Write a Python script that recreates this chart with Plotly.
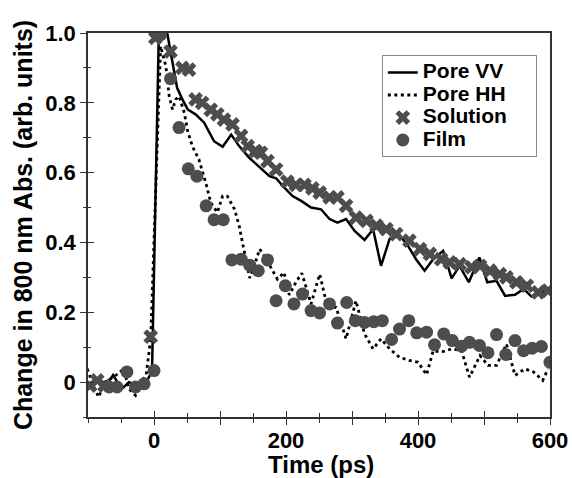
import plotly.graph_objects as go

# ---- data ----
vv_t = [-100, -84, -69, -62, -49, -38, -25, -12, -3, 7, 20, 28, 35, 43, 51, 63, 76, 91, 104, 117, 129,
        144, 160, 175, 185, 195, 210, 223, 238, 253, 266, 278, 291, 304, 319, 332, 344, 357, 372, 385,
        397, 410, 423, 438, 451, 463, 477, 493, 505, 519, 532, 547, 560, 572, 585, 597, 613]
vv_v = [-0.01, 0.0, 0.0, 0.02, -0.02, 0.0, -0.01, 0.0, 0.03, 0.97, 1.0, 0.914, 0.843, 0.81, 0.781, 0.767,
        0.743, 0.69, 0.674, 0.709, 0.676, 0.643, 0.617, 0.59, 0.584, 0.562, 0.533, 0.519, 0.50, 0.495,
        0.467, 0.457, 0.467, 0.433, 0.407, 0.438, 0.333, 0.41, 0.421, 0.39, 0.352, 0.319, 0.352, 0.376,
        0.297, 0.333, 0.286, 0.357, 0.286, 0.29, 0.247, 0.25, 0.267, 0.245, 0.257, 0.262, 0.233]

hh_t = [-101, -94, -84, -74, -58, -46, -38, -28, -20, -12, -5, 10, 18, 23, 28, 33, 38, 46, 51, 58, 68,
        79, 86, 96, 104, 111, 122, 129, 134, 139, 145, 152, 160, 167, 177, 187, 197, 205, 215, 224,
        238, 251, 263, 276, 291, 306, 319, 332, 344, 357, 372, 387, 400, 413, 423, 435, 451, 466, 478,
        494, 506, 519, 534, 547, 562, 575, 589, 597]
hh_v = [0.038, 0.0, -0.043, 0.0, 0.019, 0.038, -0.019, -0.038, 0.0, 0.019, 0.124, 0.962, 0.905, 0.819,
        0.781, 0.81, 0.819, 0.771, 0.719, 0.676, 0.638, 0.567, 0.514, 0.486, 0.533, 0.533, 0.495, 0.448,
        0.40, 0.352, 0.298, 0.333, 0.381, 0.362, 0.329, 0.295, 0.314, 0.25, 0.286, 0.312, 0.224, 0.309,
        0.214, 0.214, 0.124, 0.233, 0.138, 0.095, 0.124, 0.095, 0.071, 0.062, 0.057, 0.021, 0.09, 0.086,
        0.095, 0.09, 0.014, 0.076, 0.048, 0.048, 0.109, 0.019, 0.038, 0.029, 0.005, 0.038]

sol_t = [-97, -86, -75, -5, 2, 25, 43, 53, 63, 73, 86, 96, 106, 119, 132, 142, 154, 162, 172, 185, 202,
         215, 228, 240, 251, 266, 278, 291, 306, 322, 337, 352, 367, 387, 403, 418, 435, 448, 463, 481,
         494, 509, 524, 534, 549, 565, 582, 597]
sol_v = [-0.01, 0.005, -0.01, 0.13, 0.986, 0.947, 0.90, 0.895, 0.81, 0.80, 0.78, 0.767, 0.752, 0.738,
         0.705, 0.676, 0.662, 0.657, 0.633, 0.609, 0.574, 0.565, 0.565, 0.555, 0.543, 0.529, 0.529, 0.505,
         0.471, 0.462, 0.448, 0.438, 0.424, 0.405, 0.381, 0.367, 0.352, 0.343, 0.338, 0.329, 0.333, 0.319,
         0.309, 0.30, 0.286, 0.276, 0.257, 0.262]

film_t = [-68, -56, -41, -28, -15, 0, 10, 25, 38, 52, 65, 79, 91, 105, 118, 132, 145, 158, 172, 185, 199,
          212, 225, 238, 251, 266, 278, 292, 305, 319, 333, 346, 360, 372, 386, 398, 413, 425, 439, 452,
          466, 478, 493, 506, 519, 533, 547, 560, 573, 587, 600]
film_v = [-0.014, -0.014, 0.029, -0.014, -0.005, 0.033, 0.995, 0.869, 0.729, 0.611, 0.59, 0.505, 0.465,
          0.465, 0.35, 0.352, 0.335, 0.319, 0.35, 0.233, 0.276, 0.224, 0.252, 0.205, 0.198, 0.224, 0.169,
          0.228, 0.176, 0.171, 0.173, 0.176, 0.122, 0.152, 0.176, 0.141, 0.143, 0.107, 0.138, 0.119, 0.103,
          0.114, 0.105, 0.084, 0.136, 0.079, 0.119, 0.09, 0.097, 0.102, 0.057]

y_tickvals = [0, 0.2, 0.4, 0.6, 0.8, 1.0]
y_ticktext = ["0", "0.2", "0.4", "0.6", "0.8", "1.0"]
y_minorvals = [-0.1, 0.1, 0.3, 0.5, 0.7, 0.9]
x_tickvals = [0, 100, 200, 300, 400, 500, 600]
x_ticktext = ["0", "", "200", "", "400", "", "600"]
x_minorvals = [-100, -50, 50, 150, 250, 350, 450, 550]
x_title = "Time (ps)"
y_title = "Change in 800 nm Abs. (arb. units)"

X_RANGE = [-100, 600]
Y_RANGE = [-0.1, 1.0]

FONT = "Liberation Sans, Arial, sans-serif"
MARK = "#4d4d4d"
AX = "#333333"


def b(s):
    return "<b>" + s + "</b>" if s else s


def leg(s):
    # large bold text; legend row spacing follows the (smaller) legend font size;
    # trailing no-break spaces give the right-hand padding of the legend box
    return '<span style="font-size:21px"><b>' + s + "\u00a0\u00a0\u00a0\u00a0</b></span>"


fig = go.Figure()
fig.add_trace(go.Scatter(x=vv_t, y=vv_v, mode="lines", name=leg("Pore VV"),
                         line=dict(color="black", width=2.5)))
fig.add_trace(go.Scatter(x=hh_t, y=hh_v, mode="lines", name=leg("Pore HH"),
                         line=dict(color="black", width=2.8, dash="3px,3.5px")))
fig.add_trace(go.Scatter(x=sol_t, y=sol_v, mode="markers", name=leg("Solution"),
                         marker=dict(symbol="x", size=13, color=MARK, line=dict(width=0))))
fig.add_trace(go.Scatter(x=film_t, y=film_v, mode="markers", name=leg("Film"),
                         marker=dict(symbol="circle", size=13, color=MARK, line=dict(width=0))))
# invisible helper trace so the overlay axes (inward half of crossing ticks) are drawn
fig.add_trace(go.Scatter(x=[X_RANGE[0]], y=[Y_RANGE[0]], xaxis="x2", yaxis="y2", mode="markers",
                         marker=dict(opacity=0), showlegend=False, hoverinfo="skip"))

tickfont = dict(family=FONT, size=22, color="black", weight="bold")

fig.update_layout(
    width=572, height=478,
    margin=dict(l=88, r=22, t=33, b=61),
    paper_bgcolor="white", plot_bgcolor="white",
    font=dict(family=FONT, color="black"),
    showlegend=True,
    legend=dict(x=0.636, y=0.942, xanchor="left", yanchor="top",
                bordercolor="#8a8a8a", borderwidth=1, bgcolor="white",
                font=dict(family=FONT, size=15, color="black", weight="bold"),
                tracegroupgap=0, itemwidth=30),
    xaxis=dict(range=X_RANGE, showgrid=False, zeroline=False, automargin=False,
               showline=True, linecolor=AX, linewidth=1.5, mirror=True,
               tickmode="array", tickvals=x_tickvals, ticktext=[b(t) for t in x_ticktext],
               ticks="outside", ticklen=6, tickwidth=1.2, tickcolor=AX, ticklabelstandoff=-3,
               minor=dict(tickmode="array", tickvals=x_minorvals,
                          ticks="outside", ticklen=4, tickwidth=1.2, tickcolor=AX),
               tickfont=tickfont),
    yaxis=dict(range=Y_RANGE, showgrid=False, zeroline=False, automargin=False,
               showline=True, linecolor=AX, linewidth=1.5, mirror=True,
               tickmode="array", tickvals=y_tickvals, ticktext=[b(t) for t in y_ticktext],
               ticks="outside", ticklen=6, tickwidth=1.2, tickcolor=AX,
               minor=dict(tickmode="array", tickvals=y_minorvals,
                          ticks="outside", ticklen=3, tickwidth=1.2, tickcolor=AX),
               tickfont=tickfont,
               title=dict(text=b(y_title),
                          font=dict(family=FONT, size=25, color="black", weight="bold"),
                          standoff=6)),
    xaxis2=dict(range=X_RANGE, overlaying="x", anchor="y", side="bottom", showgrid=False,
                zeroline=False, showline=False, showticklabels=False, automargin=False,
                tickmode="array", tickvals=x_tickvals,
                ticks="inside", ticklen=6, tickwidth=1.2, tickcolor=AX,
                minor=dict(tickmode="array", tickvals=x_minorvals[2:],
                           ticks="inside", ticklen=4, tickwidth=1.2, tickcolor=AX)),
    yaxis2=dict(range=Y_RANGE, overlaying="y", anchor="x", side="left", showgrid=False,
                zeroline=False, showline=False, showticklabels=False, automargin=False,
                tickmode="array", tickvals=y_tickvals,
                ticks="inside", ticklen=6, tickwidth=1.2, tickcolor=AX,
                minor=dict(tickmode="array", tickvals=y_minorvals[1:],
                           ticks="inside", ticklen=3, tickwidth=1.2, tickcolor=AX)),
    annotations=[dict(text=b(x_title), xref="paper", yref="paper", x=0.504, y=0,
                      xanchor="center", yanchor="top", yshift=-32, showarrow=False,
                      font=dict(family=FONT, size=24, color="black", weight="bold"))],
)

# remove the browser's default 8px page margin so the figure fills the window exactly
fig.write_html("out.html", config={"displayModeBar": False},
               post_script="document.body.style.margin='0';")
